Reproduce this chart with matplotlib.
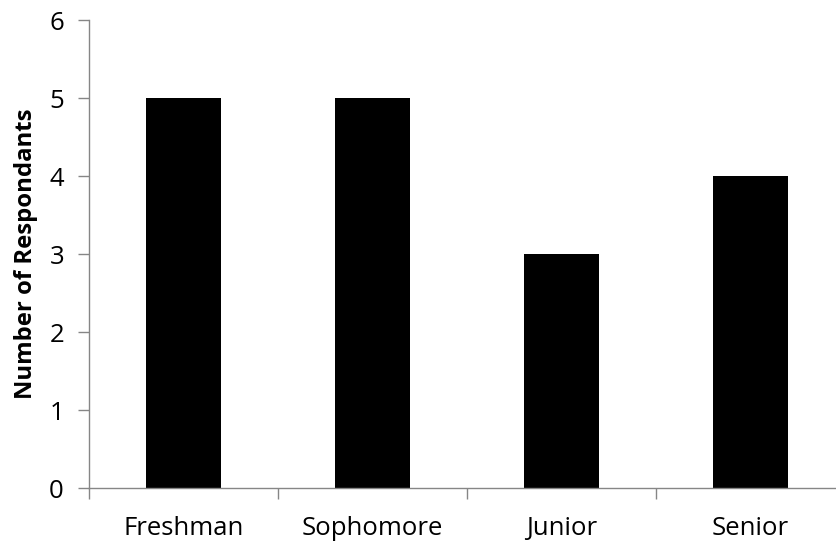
import matplotlib
matplotlib.use("Agg")
import matplotlib.pyplot as plt
import numpy as np

categories = ["Freshman", "Sophomore", "Junior", "Senior"]
values = [5, 5, 3, 4]
yticks = [0, 1, 2, 3, 4, 5, 6]

plt.rcParams['font.family'] = ['Open Sans', 'DejaVu Sans']

fig = plt.figure(figsize=(8.36, 5.46), dpi=100)
ax = fig.add_axes([89/836, 1-488/546, (845-89)/836, (488-20)/546])

x = np.arange(len(categories))
ax.bar(x, values, width=0.4, color='black')
ax.set_xlim(-0.5, len(categories)-0.5)
ax.set_ylim(0, 6)
ax.set_yticks(yticks)
ax.set_yticklabels([str(t) for t in yticks], fontsize=18.5)

ax.set_xticks(x)
ax.set_xticklabels(categories, fontsize=18.5)
ax.tick_params(axis='x', length=0, pad=20)
ax.set_xticks(np.arange(-0.5, len(categories)), minor=True)
ax.tick_params(axis='x', which='minor', length=8, color='#868686', width=1)
ax.tick_params(axis='y', length=8, color='#868686', width=1, pad=10)

for s in ['top', 'right']:
    ax.spines[s].set_visible(False)
for s in ['left', 'bottom']:
    ax.spines[s].set_color('#868686')
    ax.spines[s].set_linewidth(1)

ax.set_ylabel("Number of Respondants", fontsize=17.2, fontweight='bold', labelpad=8)

fig.savefig("out.png", dpi=100)
